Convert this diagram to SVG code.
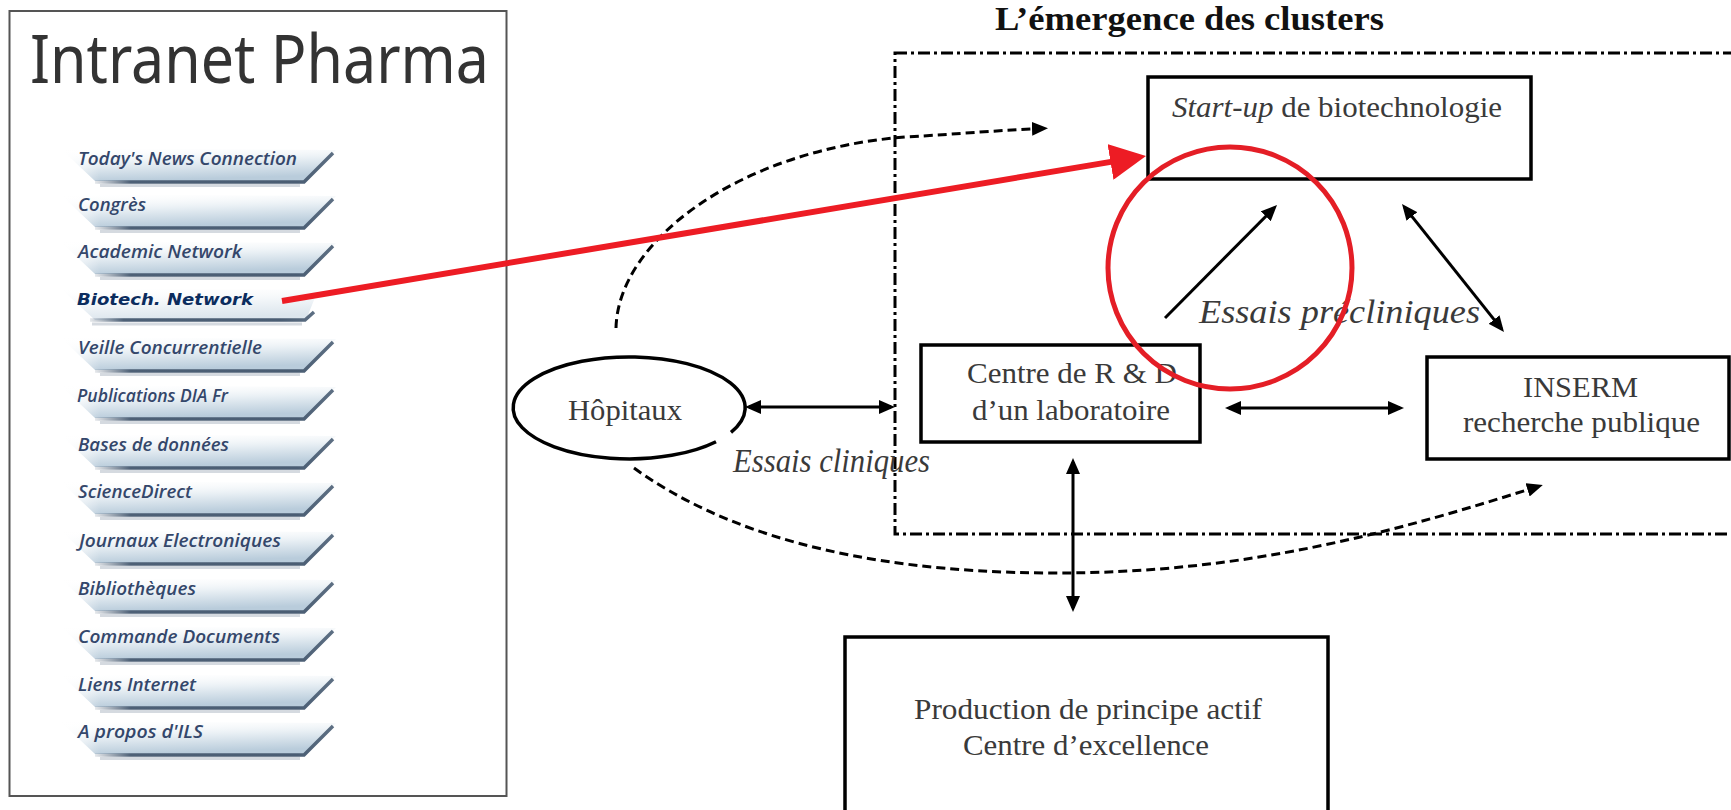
<svg xmlns="http://www.w3.org/2000/svg" width="1731" height="810" viewBox="0 0 1731 810">
<style>
.menu{font-family:"Open Sans","Noto Sans",sans-serif;font-style:italic;font-weight:600;font-size:18px;fill:#34476b;}
.sel{font-family:"DejaVu Sans","Noto Sans",sans-serif;font-style:italic;font-weight:bold;font-size:16px;fill:#0b2c5e;}
.lbl{font-family:"Liberation Serif","Times New Roman",serif;font-size:30px;fill:#3a3a3a;}
.ital{font-family:"Liberation Serif","Times New Roman",serif;font-style:italic;font-size:33px;fill:#3a3a3a;}
.box{fill:none;stroke:#000;stroke-width:3.5;}
.arr{fill:none;stroke:#000;stroke-width:3;}
.dash{fill:none;stroke:#000;stroke-width:3;stroke-dasharray:9 5;}
</style>
<defs>
<linearGradient id="tabFill" x1="0" y1="0" x2="0.25" y2="1">
<stop offset="0" stop-color="#ffffff" stop-opacity="0"/>
<stop offset="0.5" stop-color="#e8eff4"/>
<stop offset="1" stop-color="#b9ccdb"/>
</linearGradient>
<linearGradient id="tabFade" x1="0" y1="0" x2="1" y2="0">
<stop offset="0" stop-color="#ffffff" stop-opacity="1"/>
<stop offset="0.3" stop-color="#ffffff" stop-opacity="0"/>
</linearGradient>
<linearGradient id="tabLine" x1="0" y1="0" x2="1" y2="0">
<stop offset="0" stop-color="#56687d" stop-opacity="0.15"/>
<stop offset="0.15" stop-color="#4d6076"/>
<stop offset="0.85" stop-color="#4a5d73"/>
<stop offset="1" stop-color="#5d6f83"/>
</linearGradient>
<g id="tab">
<polygon points="60,-17 336,-15 306,16 95,16" fill="url(#tabFill)"/>
<polygon points="58,-18 200,-18 200,17 58,17" fill="url(#tabFade)"/>
<path d="M100,20.5 L300,20.5" stroke="#a3afbb" stroke-width="3" opacity="0.45"/>
<path d="M95,17 L304,17 L333,-12" fill="none" stroke="url(#tabLine)" stroke-width="3.5"/>
</g>
<g id="tabSel">
<polygon points="60,-17 318,-15 306,15 95,15" fill="url(#tabFill)" opacity="0.5"/>
<path d="M92,19 L302,19" stroke="#a3afbb" stroke-width="3" opacity="0.45"/>
<path d="M90,15 L305,15 L314,7" fill="none" stroke="url(#tabLine)" stroke-width="3.5"/>
</g>
<marker id="ah" viewBox="0 0 16 14" refX="12" refY="7" markerWidth="16" markerHeight="14" markerUnits="userSpaceOnUse" orient="auto-start-reverse">
<path d="M0,0 L16,7 L0,14 z" fill="#000"/>
</marker>
<marker id="ahRed" viewBox="0 0 36 36" refX="14" refY="18" markerWidth="36" markerHeight="36" markerUnits="userSpaceOnUse" orient="auto">
<path d="M0,0 L36,18 L0,36 z" fill="#ed1c24"/>
</marker>
</defs>
<rect x="0" y="0" width="1731" height="810" fill="#fff"/>

<g id="intranet-panel">
<rect x="9.5" y="11" width="497" height="785" fill="#fff" stroke="#555" stroke-width="2"/>
<text x="30" y="83" font-family="'Noto Sans','Open Sans',sans-serif" font-size="68" fill="#333" textLength="459" lengthAdjust="spacingAndGlyphs">Intranet Pharma</text>
</g>

<g id="menu">
<g id="m-news"><use href="#tab" y="165"/><text class="menu" x="78" y="165" textLength="219" lengthAdjust="spacingAndGlyphs">Today's News Connection</text></g>
<g id="m-congres"><use href="#tab" y="211"/><text class="menu" x="78" y="211" textLength="68" lengthAdjust="spacingAndGlyphs">Congrès</text></g>
<g id="m-academic"><use href="#tab" y="258"/><text class="menu" x="78" y="258" textLength="164" lengthAdjust="spacingAndGlyphs">Academic Network</text></g>
<g id="m-biotech"><use href="#tabSel" y="305"/><text class="sel" x="77" y="305" textLength="176" lengthAdjust="spacingAndGlyphs">Biotech. Network</text></g>
<g id="m-veille"><use href="#tab" y="354"/><text class="menu" x="78" y="354" textLength="184" lengthAdjust="spacingAndGlyphs">Veille Concurrentielle</text></g>
<g id="m-publications"><use href="#tab" y="402"/><text class="menu" x="77" y="402" textLength="151" lengthAdjust="spacingAndGlyphs">Publications DIA Fr</text></g>
<g id="m-bases"><use href="#tab" y="451"/><text class="menu" x="78" y="451" textLength="151" lengthAdjust="spacingAndGlyphs">Bases de données</text></g>
<g id="m-sciencedirect"><use href="#tab" y="498"/><text class="menu" x="78" y="498" textLength="114" lengthAdjust="spacingAndGlyphs">ScienceDirect</text></g>
<g id="m-journaux"><use href="#tab" y="547"/><text class="menu" x="79" y="547" textLength="202" lengthAdjust="spacingAndGlyphs">Journaux Electroniques</text></g>
<g id="m-biblio"><use href="#tab" y="595"/><text class="menu" x="78" y="595" textLength="118" lengthAdjust="spacingAndGlyphs">Bibliothèques</text></g>
<g id="m-commande"><use href="#tab" y="643"/><text class="menu" x="78" y="643" textLength="202" lengthAdjust="spacingAndGlyphs">Commande Documents</text></g>
<g id="m-liens"><use href="#tab" y="691"/><text class="menu" x="78" y="691" textLength="118" lengthAdjust="spacingAndGlyphs">Liens Internet</text></g>
<g id="m-apropos"><use href="#tab" y="738"/><text class="menu" x="78" y="738" textLength="125" lengthAdjust="spacingAndGlyphs">A propos d'ILS</text></g>
</g>

<g id="title">
<text x="995" y="30" font-family="'Liberation Serif','Times New Roman',serif" font-weight="bold" font-size="34" fill="#111" textLength="389" lengthAdjust="spacingAndGlyphs">L’émergence des clusters</text>
</g>

<g id="cluster">
<rect x="895" y="53" width="900" height="481" fill="none" stroke="#000" stroke-width="3" stroke-dasharray="12 4 3 4"/>
</g>

<g id="startup">
<rect class="box" x="1148" y="77" width="383" height="102"/>
<text class="lbl" x="1172" y="117" textLength="330" lengthAdjust="spacingAndGlyphs"><tspan font-style="italic">Start-up</tspan> de biotechnologie</text>
</g>

<g id="centre-rd">
<rect class="box" x="921" y="345" width="279" height="97"/>
<text class="lbl" x="967" y="383" textLength="210" lengthAdjust="spacingAndGlyphs">Centre de R &amp; D</text>
<text class="lbl" x="972" y="420" textLength="198" lengthAdjust="spacingAndGlyphs">d’un laboratoire</text>
</g>

<g id="inserm">
<rect class="box" x="1427" y="357" width="302" height="102"/>
<text class="lbl" x="1523" y="397" textLength="115" lengthAdjust="spacingAndGlyphs">INSERM</text>
<text class="lbl" x="1463" y="432" textLength="237" lengthAdjust="spacingAndGlyphs">recherche publique</text>
</g>

<g id="hopitaux">
<path d="M716,441.7 A116,51 0 1 1 731,432.3" fill="none" stroke="#000" stroke-width="3.5"/>
<text class="lbl" x="568" y="420" textLength="114" lengthAdjust="spacingAndGlyphs">Hôpitaux</text>
</g>

<g id="production">
<rect class="box" x="845" y="637" width="483" height="200"/>
<text class="lbl" x="914" y="719" textLength="348" lengthAdjust="spacingAndGlyphs">Production de principe actif</text>
<text class="lbl" x="963" y="755" textLength="246" lengthAdjust="spacingAndGlyphs">Centre d’excellence</text>
</g>

<g id="labels">
<text class="ital" x="733" y="472" textLength="197" lengthAdjust="spacingAndGlyphs">Essais cliniques</text>
<text class="ital" x="1199" y="323" textLength="281" lengthAdjust="spacingAndGlyphs">Essais précliniques</text>
</g>

<g id="connectors">
<line class="arr" x1="749" y1="407" x2="891" y2="407" marker-start="url(#ah)" marker-end="url(#ah)"/>
<line class="arr" x1="1229" y1="408" x2="1400" y2="408" marker-start="url(#ah)" marker-end="url(#ah)"/>
<line class="arr" x1="1073" y1="462" x2="1073" y2="608" marker-start="url(#ah)" marker-end="url(#ah)"/>
<line class="arr" x1="1404.5" y1="207.1" x2="1501.5" y2="328.9" marker-start="url(#ah)" marker-end="url(#ah)"/>
<line class="arr" x1="1165" y1="318" x2="1274.2" y2="207.8" stroke-width="2.5" marker-end="url(#ah)"/>
<path class="dash" d="M616,328 C618,240 740,150 905,137 C960,134 1000,130 1044,128.4" marker-end="url(#ah)"/>
<path class="dash" d="M634,468 C720,530 850,572 1050,573 C1250,574 1400,530 1539,486.2" marker-end="url(#ah)"/>
</g>

<g id="highlight">
<line x1="282" y1="301" x2="1124.3" y2="159.6" stroke="#ed1c24" stroke-width="6" marker-end="url(#ahRed)"/>
<ellipse cx="1230" cy="268" rx="122" ry="121" fill="none" stroke="#e41e26" stroke-width="5"/>
</g>
</svg>
